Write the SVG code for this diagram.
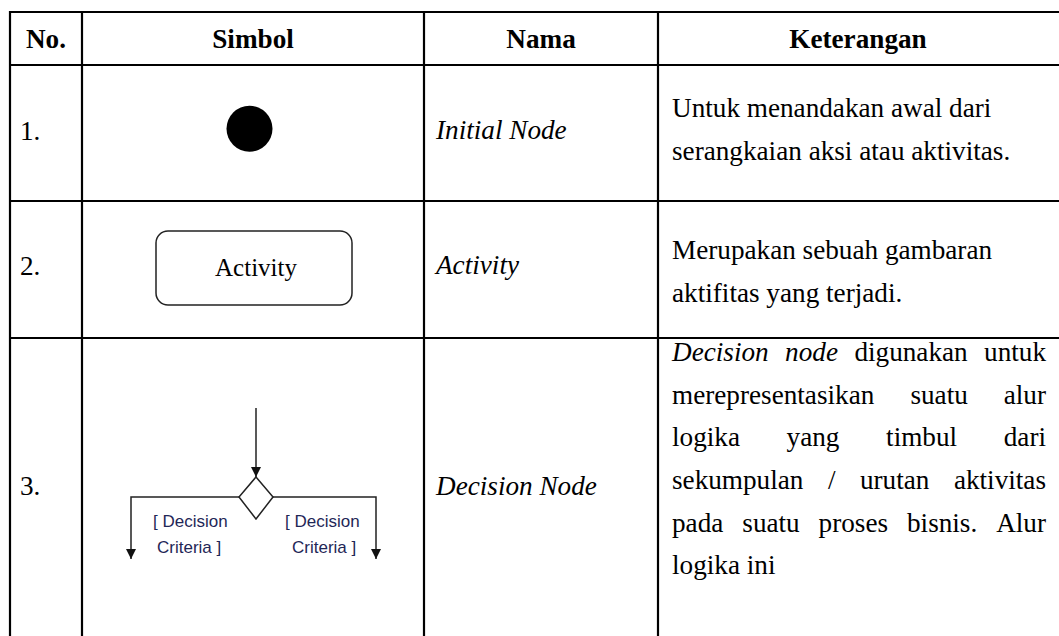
<svg xmlns="http://www.w3.org/2000/svg" width="1059" height="636" viewBox="0 0 1059 636">
  <defs>
    <style>
      .t { font-family: "Liberation Serif", "Times New Roman", serif; font-size: 27.2px; fill: #000; }
      .b { font-weight: bold; }
      .i { font-style: italic; }
      .grid { stroke: #000; stroke-width: 2.2; fill: none; }
      .sym { stroke: #222; stroke-width: 1.5; fill: none; }
      .lbl { font-family: "Liberation Sans", Arial, sans-serif; font-size: 17px; fill: #1f2757; }
    </style>
    <marker id="arrow" viewBox="0 0 10 10" refX="10" refY="5" markerWidth="10" markerHeight="10" markerUnits="userSpaceOnUse" orient="auto">
      <path d="M0,0 L10,5 L0,10 Z" fill="#111"/>
    </marker>
  </defs>
  <rect width="1059" height="636" fill="#fff"/>

  <!-- table grid -->
  <g id="grid" class="grid">
    <line x1="10" y1="12" x2="1059" y2="12"/>
    <line x1="10" y1="65" x2="1059" y2="65"/>
    <line x1="10" y1="201" x2="1059" y2="201"/>
    <line x1="10" y1="338" x2="1059" y2="338"/>
    <line x1="10" y1="11" x2="10" y2="636"/>
    <line x1="82" y1="11" x2="82" y2="636"/>
    <line x1="424" y1="11" x2="424" y2="636"/>
    <line x1="658" y1="11" x2="658" y2="636"/>
  </g>

  <!-- header row -->
  <g id="header" class="t b" text-anchor="middle">
    <text x="46" y="48">No.</text>
    <text x="253" y="48">Simbol</text>
    <text x="541" y="48">Nama</text>
    <text x="858" y="48">Keterangan</text>
  </g>

  <!-- row 1: initial node -->
  <g id="row1">
    <text class="t" x="20" y="140">1.</text>
    <circle id="initial-node" cx="249.5" cy="128.7" r="23" fill="#000"/>
    <text class="t i" x="436" y="139">Initial Node</text>
    <text class="t" x="672" y="117">Untuk menandakan awal dari</text>
    <text class="t" x="672" y="160">serangkaian aksi atau aktivitas.</text>
  </g>

  <!-- row 2: activity -->
  <g id="row2">
    <text class="t" x="20" y="275">2.</text>
    <g id="activity-node">
      <rect x="156" y="231" width="196" height="74" rx="12" ry="12" fill="#fff" stroke="#222" stroke-width="1.5"/>
      <text class="t" x="256" y="276" text-anchor="middle" style="font-size:25px">Activity</text>
    </g>
    <text class="t i" x="436" y="274">Activity</text>
    <text class="t" x="672" y="259">Merupakan sebuah gambaran</text>
    <text class="t" x="672" y="302">aktifitas yang terjadi.</text>
  </g>

  <!-- row 3: decision node -->
  <g id="row3">
    <text class="t" x="20" y="495">3.</text>
    <g id="decision-node">
      <polygon class="sym" points="256,477 273,497 256,519 239,497" fill="#fff"/>
      <g id="decision-connectors" class="sym">
        <line x1="256" y1="408" x2="256" y2="477" marker-end="url(#arrow)"/>
        <polyline points="239,497 131,497 131,559" marker-end="url(#arrow)"/>
        <polyline points="273,497 376,497 376,559" marker-end="url(#arrow)"/>
      </g>
      <text class="lbl" x="153" y="527">[ Decision</text>
      <text class="lbl" x="157" y="553">Criteria ]</text>
      <text class="lbl" x="285" y="527">[ Decision</text>
      <text class="lbl" x="292" y="553">Criteria ]</text>
    </g>
    <text class="t i" x="436" y="495">Decision Node</text>
    <text class="t" y="361"><tspan class="i" x="672">Decision</tspan><tspan class="i" x="785.1">node</tspan><tspan x="854.4">digunakan</tspan><tspan x="1046" text-anchor="end">untuk</tspan></text>
    <text class="t" y="404"><tspan x="672">merepresentasikan</tspan><tspan x="910.4">suatu</tspan><tspan x="1046" text-anchor="end">alur</tspan></text>
    <text class="t" y="446"><tspan x="672">logika</tspan><tspan x="786.6">yang</tspan><tspan x="886.1">timbul</tspan><tspan x="1046" text-anchor="end">dari</tspan></text>
    <text class="t" y="489"><tspan x="672">sekumpulan</tspan><tspan x="827.9">/</tspan><tspan x="859.9">urutan</tspan><tspan x="1046" text-anchor="end">aktivitas</tspan></text>
    <text class="t" y="532"><tspan x="672">pada</tspan><tspan x="742.3">suatu</tspan><tspan x="818.6">proses</tspan><tspan x="907">bisnis.</tspan><tspan x="1046" text-anchor="end">Alur</tspan></text>
    <text class="t" x="672" y="574">logika ini</text>
  </g>
</svg>
